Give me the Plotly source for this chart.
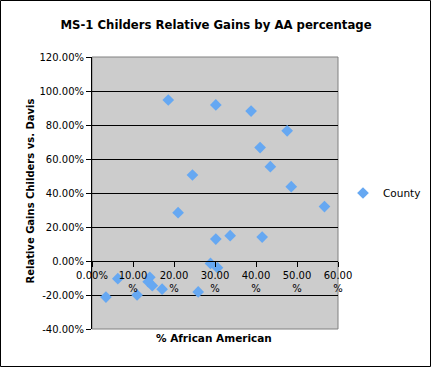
import plotly.graph_objects as go

pct_aa = [18.6, 30.2, 38.8, 47.6, 41.0, 43.5, 24.5, 48.6, 56.7, 21.0, 33.7, 41.5, 30.2,
          28.9, 30.6, 6.3, 14.1, 13.7, 14.7, 11.0, 3.4, 17.1, 25.9]
rel_gain = [94.7, 91.8, 88.2, 76.6, 66.7, 55.5, 50.6, 43.7, 32.0, 28.4, 14.9, 14.1, 12.9,
            -1.4, -3.9, -10.4, -9.6, -12.2, -14.5, -20.0, -21.2, -16.6, -18.2]

x_ticks = [0, 10, 20, 30, 40, 50, 60]
x_ticktext = ["0.00%", "10.00<br>%", "20.00<br>%", "30.00<br>%", "40.00<br>%", "50.00<br>%", "60.00<br>%"]
y_ticks = [-40, -20, 0, 20, 40, 60, 80, 100, 120]
y_ticktext = ["-40.00%", "-20.00%", "0.00%", "20.00%", "40.00%", "60.00%", "80.00%", "100.00%", "120.00%"]

FONT = "DejaVu Sans"
W, H = 432, 368
L, R, T, B = 92, 338, 57, 329
pw, ph = R - L, B - T

fig = go.Figure()
fig.add_trace(go.Scatter(
    x=pct_aa, y=rel_gain, mode="markers", name="County",
    marker=dict(symbol="diamond", size=9, color="#66a8f2",
                line=dict(width=0)),
))

fig.update_layout(
    width=W, height=H,
    margin=dict(l=L, r=W - R, t=T, b=H - B, autoexpand=False),
    paper_bgcolor="white", plot_bgcolor="#cccccc",
    font=dict(family=FONT, size=10, color="black"),
    title=dict(text="<b>MS-1 Childers Relative Gains by AA percentage</b>",
               x=216 / W, xref="container", y=1 - 25 / H, yref="container",
               xanchor="center", yanchor="middle",
               font=dict(family=FONT, size=11.7, color="black")),
    showlegend=True,
    legend=dict(x=(343 - L) / pw, y=(B - 193) / ph, xanchor="left", yanchor="middle",
                bgcolor="rgba(0,0,0,0)", font=dict(family=FONT, size=10.5),
                itemwidth=30, tracegroupgap=0),
    xaxis=dict(range=[0, 60], tickvals=x_ticks, ticktext=x_ticktext,
               showgrid=False, zeroline=False, showline=True, linecolor="black",
               linewidth=1, ticks="outside", ticklen=5, tickcolor="black",
               anchor="free", position=0.25, tickangle=0, automargin=False,
               tickfont=dict(size=10)),
    yaxis=dict(range=[-40, 120], tickvals=y_ticks, ticktext=y_ticktext,
               showgrid=True, gridcolor="black", gridwidth=1, zeroline=False,
               showline=True, linecolor="black", linewidth=1, automargin=False,
               ticks="outside", ticklen=5, tickcolor="black", tickfont=dict(size=10)),
    shapes=[
        dict(type="rect", xref="paper", yref="paper", x0=0, x1=1, y0=0, y1=1,
             line=dict(color="#808080", width=1), layer="below"),
        dict(type="rect", xref="paper", yref="paper",
             x0=(0.5 - L) / pw, x1=(W - 1.5 - L) / pw,
             y0=(B - (H - 1.5)) / ph, y1=(B - 0.5) / ph,
             line=dict(color="black", width=1)),
    ],
    annotations=[
        dict(text="<b>Relative Gains Childers vs. Davis</b>", textangle=-90,
             xref="paper", yref="paper", x=(22 - L) / pw, y=(B - 191) / ph,
             showarrow=False, font=dict(family=FONT, size=10)),
        dict(text="<b>% African American</b>",
             xref="paper", yref="paper", x=(214 - L) / pw, y=(B - 346) / ph,
             showarrow=False, font=dict(family=FONT, size=10.5)),
    ],
)

fig.write_html("out.html", config={"displayModeBar": False},
               post_script="document.body.style.margin='0';document.body.style.overflow='hidden';")
